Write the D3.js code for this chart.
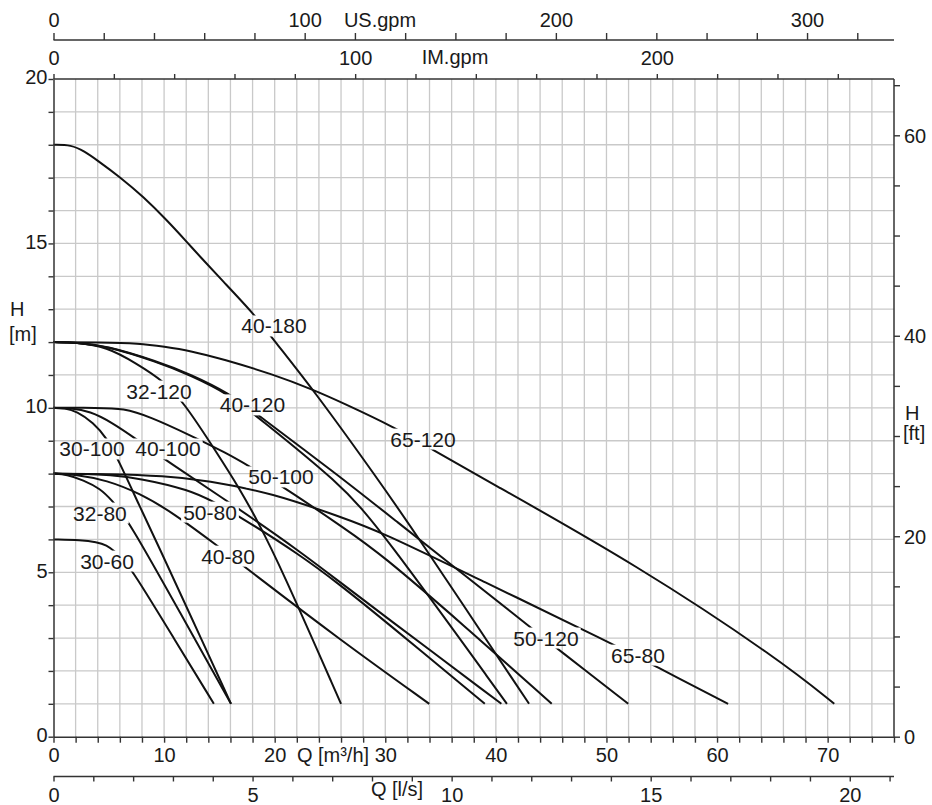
<!DOCTYPE html>
<html>
<head>
<meta charset="utf-8">
<script src="https://cdn.jsdelivr.net/npm/d3@7"></script>
<style>
  html, body { margin: 0; padding: 0; background: #fff; }
  svg { display: block; font-family: "Liberation Sans", Arial, sans-serif; }
</style>
</head>
<body>
<svg id="chart" width="932" height="805"></svg>
<script>
// Pump performance curves: flow Q [m³/h] against head H [m], one curve per pump size.
const p30_60  = [[0,6],[2.5,5.98],[3.9,5.92],[4.8,5.83],[5.56,5.63],[6.3,5.38],[7.2,5.02],[10.8,3.04],[14.5,1.0]];
const p32_80  = [[0,8],[1.2,7.98],[2.7,7.8],[4.2,7.55],[5.26,7.2],[6.76,6.59],[11.4,3.8],[16.05,1.0]];
const p30_100 = [[0,10],[1,9.99],[2.1,9.9],[3.6,9.55],[4.8,9.09],[5.86,8.42],[7.8,7.0],[9.7,5.65],[12,3.97],[16.05,1.0]];
const p32_120 = [[0,12],[2,11.99],[4.8,11.86],[7.5,11.35],[9.93,10.82],[11.74,10.19],[14.8,8.62],[16.9,7.5],[18.4,6.59],[20.5,5.2],[26.0,1.0]];
const p40_80  = [[0,8],[2,7.98],[4.8,7.8],[7.8,7.4],[10.85,6.8],[15.05,5.75],[17.6,5.08],[25.9,2.95],[33.98,1.0]];
const p40_100 = [[0,10],[1.5,9.99],[3.3,9.9],[5.3,9.55],[7.4,9.07],[10.1,8.42],[16.9,6.9],[22.3,5.63],[25.9,4.7],[29.5,3.78],[40.5,1.0]];
const p40_120 = [[0,12],[2,11.99],[4.81,11.88],[9.33,11.4],[12.34,11.0],[15.96,10.39],[18.22,9.78],[25.9,7.71],[29.5,6.34],[41.0,1.0]];
const p40_180 = [[0,18],[1.6,18.0],[2.8,17.8],[3.91,17.54],[6.01,17.02],[8.12,16.42],[10.24,15.71],[12.04,15.05],[13.25,14.6],[15.21,13.89],[18.22,12.82],[19.67,12.16],[23.64,10.49],[29.37,7.81],[32.53,6.29],[43.0,1.0]];
const p50_80  = [[0,8],[3,7.99],[5,7.96],[7.82,7.86],[12.34,7.5],[14.45,7.15],[16.86,6.69],[22.3,5.53],[25.9,4.62],[29.5,3.65],[39.0,1.0]];
const p50_100 = [[0,10],[4,10.0],[6.31,9.99],[8.73,9.73],[12.34,9.17],[15.66,8.62],[17.77,8.21],[20.78,7.6],[26.51,6.29],[29.52,5.58],[37,3.42],[45.05,1.0]];
const p50_120 = [[0,12],[2,11.99],[4.81,11.89],[9.33,11.42],[12.34,11.03],[15.96,10.43],[18.22,9.85],[25.9,7.91],[29.5,6.95],[43.24,3.3],[45.5,2.69],[51.97,1.0]];
const p65_80  = [[0,8],[5,7.99],[10,7.93],[13.85,7.8],[19.85,7.4],[25.9,6.69],[29.5,6.25],[38.56,4.77],[50.6,2.82],[54.2,2.18],[61.0,1.0]];
const p65_120 = [[0,12],[4,11.99],[7.82,11.96],[10,11.86],[12.34,11.74],[15.33,11.48],[19.85,11.02],[23.55,10.54],[25.9,10.19],[31.03,9.38],[34.2,8.74],[38.55,7.91],[53.03,5.17],[65.69,2.33],[70.6,1.0]];

const pumpNames = ["30-60","32-80","30-100","32-120","40-80","40-100","40-120","40-180","50-80","50-100","50-120","65-80","65-120"];
const pumpCurves = [p30_60,p32_80,p30_100,p32_120,p40_80,p40_100,p40_120,p40_180,p50_80,p50_100,p50_120,p65_80,p65_120];

// Where each pump name sits on the chart, in (Q, H) units
const labelAt = {
  "40-180":[19.94,12.49], "32-120":[9.54,10.51], "40-120":[17.99,10.09], "65-120":[33.41,9.05],
  "30-100":[3.48,8.75],  "40-100":[10.35,8.75], "50-100":[20.57,7.9],  "32-80":[4.2,6.8],
  "50-80":[14.15,6.83],  "40-80":[15.78,5.49],  "30-60":[4.84,5.34],   "50-120":[44.53,3.0],
  "65-80":[52.85,2.48]
};

// Axis ticks and labelled values
const qTicks   = d3.range(0, 77, 2);     const qLabels  = [0,10,20,30,40,50,60,70];
const hTicks   = d3.range(0, 21, 1);     const hLabels  = [0,5,10,15,20];
const ftTicks  = d3.range(0, 66, 5);     const ftLabels = [0,20,40,60];
const usTicks  = d3.range(0, 321, 20);   const usLabels = [0,100,200,300];
const imTicks  = d3.range(0, 261, 20);   const imLabels = [0,100,200];
const lsTicks  = d3.range(0, 22, 1);     const lsLabels = [0,5,10,15,20];

// Unit conversions to m³/h and m
const M3H_PER_USGPM = 0.2271247, M3H_PER_IMGPM = 0.2727654, M3H_PER_LS = 3.6, M_PER_FT = 0.3048;

const W = 932, H = 805;
const qMax = 76, hMax = 20;
const pL = 53.5, pR = 894, pT = 79, pB = 736.7;

const svg = d3.select("#chart");
const x = d3.scaleLinear().domain([0, qMax]).range([pL, pR]);
const y = d3.scaleLinear().domain([0, hMax]).range([pB, pT]);
const xUS = d3.scaleLinear().domain([0, qMax / M3H_PER_USGPM]).range([pL, pR]);
const xIM = d3.scaleLinear().domain([0, qMax / M3H_PER_IMGPM]).range([pL, pR]);
const xLS = d3.scaleLinear().domain([0, qMax / M3H_PER_LS]).range([pL, pR]);
const yFt = d3.scaleLinear().domain([0, hMax / M_PER_FT]).range([pB, pT]);

const ink = "#1a1a1a", axisInk = "#333", gridInk = "#c9c9c9";

// Grid
const grid = svg.append("g").attr("stroke", gridInk).attr("stroke-width", 1.3);
grid.selectAll("line.v").data(qTicks.filter(d => d > 0 && d < qMax)).join("line").attr("class", "v")
  .attr("x1", d => x(d)).attr("x2", d => x(d)).attr("y1", pT).attr("y2", pB);
grid.selectAll("line.h").data(hTicks.filter(d => d > 0 && d < hMax)).join("line").attr("class", "h")
  .attr("x1", pL).attr("x2", pR).attr("y1", d => y(d)).attr("y2", d => y(d));

// Gaps in the curves behind each pump name
const defs = svg.append("defs");
const mask = defs.append("mask").attr("id", "labelGaps")
  .attr("maskUnits", "userSpaceOnUse").attr("x", 0).attr("y", 0).attr("width", W).attr("height", H);
mask.append("rect").attr("width", W).attr("height", H).attr("fill", "#fff");

const line = d3.line().x(d => x(d[0])).y(d => y(d[1])).curve(d3.curveBasis);
svg.append("g").attr("mask", "url(#labelGaps)")
  .selectAll("path").data(pumpCurves).join("path")
  .attr("d", line).attr("fill", "none").attr("stroke", "#111").attr("stroke-width", 2)
  .attr("stroke-linejoin", "round");

// Axes
function styleAxis(g) {
  g.select(".domain").attr("stroke", axisInk).attr("stroke-width", 1.5);
  g.selectAll(".tick line").attr("stroke", axisInk).attr("stroke-width", 1.4);
  g.selectAll(".tick text").attr("fill", ink).style("font-size", "20px")
    .style("font-family", '"Liberation Sans", Arial, sans-serif');
}
const fmt = set => d => set.includes(d) ? d : "";

const gB = svg.append("g").attr("transform", `translate(0,${pB})`)
  .call(d3.axisBottom(x).tickValues(qTicks).tickSize(6).tickSizeOuter(0).tickFormat(fmt(qLabels)));
styleAxis(gB); gB.selectAll(".tick text").attr("y", 11);

const gL = svg.append("g").attr("transform", `translate(${pL},0)`)
  .call(d3.axisLeft(y).tickValues(hTicks).tickSize(5).tickSizeOuter(0).tickFormat(fmt(hLabels)));
styleAxis(gL); gL.selectAll(".tick text").attr("x", -6).attr("dy", "0.24em");

const gR = svg.append("g").attr("transform", `translate(${pR},0)`)
  .call(d3.axisRight(yFt).tickValues(ftTicks).tickSize(6).tickSizeOuter(0).tickFormat(fmt(ftLabels)));
styleAxis(gR); gR.select(".domain").attr("d", `M0,${pT}V${pB}`);
gR.selectAll(".tick text").attr("x", 10).attr("dy", "0.36em");

const gIM = svg.append("g").attr("transform", `translate(0,${pT})`)
  .call(d3.axisTop(xIM).tickValues(imTicks).tickSize(5).tickSizeOuter(0).tickFormat(fmt(imLabels)));
styleAxis(gIM); gIM.select(".domain").attr("d", `M${pL},0H${pR}`);
gIM.selectAll(".tick text").attr("y", -14);

const usY = 40;
const gUS = svg.append("g").attr("transform", `translate(0,${usY})`)
  .call(d3.axisTop(xUS).tickValues(usTicks).tickSize(7).tickSizeOuter(0).tickFormat(fmt(usLabels)));
styleAxis(gUS); gUS.select(".domain").attr("d", `M${pL},0H${pR}`);
gUS.selectAll(".tick text").attr("y", -13);

const lsY = 776.5;
const gLS = svg.append("g").attr("transform", `translate(0,${lsY})`)
  .call(d3.axisBottom(xLS).tickValues(lsTicks).tickSize(5).tickSizeOuter(0).tickFormat(fmt(lsLabels)));
styleAxis(gLS); gLS.select(".domain").attr("d", `M${pL},0H${pR}`);
gLS.selectAll(".tick text").attr("y", 11);

// Axis titles
const titles = svg.append("g").attr("fill", ink).style("font-size", "20px");
titles.append("text").attr("x", 380).attr("y", 27).attr("text-anchor", "middle").text("US.gpm");
titles.append("text").attr("x", 455).attr("y", 64).attr("text-anchor", "middle").text("IM.gpm");
titles.append("text").attr("x", 333).attr("y", 762).attr("text-anchor", "middle").text("Q [m³/h]");
titles.append("text").attr("x", 397).attr("y", 796).attr("text-anchor", "middle").text("Q [l/s]");
titles.append("text").attr("x", 10).attr("y", 316).text("H");
titles.append("text").attr("x", 9).attr("y", 341).text("[m]");
titles.append("text").attr("x", 905).attr("y", 420).text("H");
titles.append("text").attr("x", 903).attr("y", 440).text("[ft]");

// Pump names, each cutting a gap in the curve it sits on
const names = svg.append("g").attr("fill", ink).style("font-size", "21px");
pumpNames.forEach(n => {
  const [q, h] = labelAt[n];
  const t = names.append("text").attr("x", x(q)).attr("y", y(h) + 7.5)
    .attr("text-anchor", "middle").text(n);
  const b = t.node().getBBox();
  mask.append("rect").attr("x", b.x - 2).attr("y", b.y + 1)
    .attr("width", b.width + 4).attr("height", b.height - 2).attr("fill", "#000");
});
</script>
</body>
</html>
